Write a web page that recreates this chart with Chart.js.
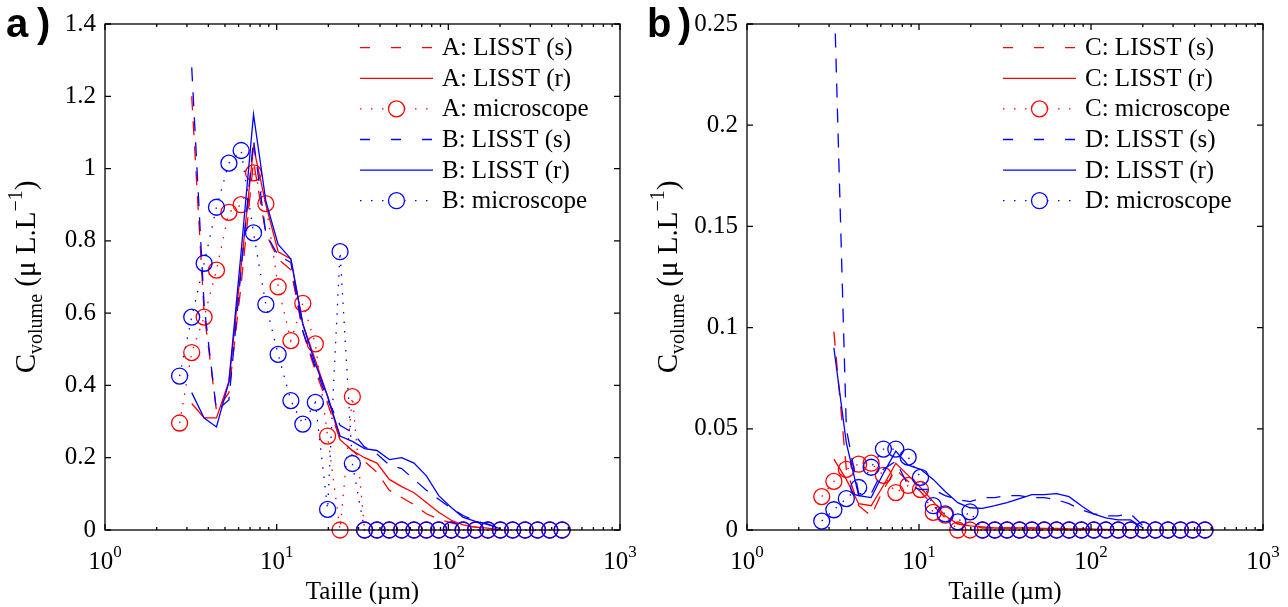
<!DOCTYPE html>
<html>
<head>
<meta charset="utf-8">
<script src="https://cdn.jsdelivr.net/npm/chart.js@4.4.1/dist/chart.umd.min.js"></script>
<style>
  body { margin: 0; background: #fff; width: 1288px; height: 607px; overflow: hidden; }
  .panel { position: absolute; top: 0; width: 644px; height: 607px; }
</style>
</head>
<body>
<div class="panel" style="left:0"><canvas id="chartA"></canvas></div>
<div class="panel" style="left:644px"><canvas id="chartB"></canvas></div>
<script>
// LISST size classes (um); the microscope counts use the same classes
var sizes = [2.72, 3.2, 3.78, 4.46, 5.27, 6.21, 7.33, 8.65, 10.2, 12.1, 14.2, 16.8, 19.8, 23.4, 27.6, 32.5,
             38.4, 45.3, 53.5, 63.1, 74.5, 87.9, 104, 122, 144, 170, 201, 237, 280, 331, 390, 460];
// LISST curves only go from the 2nd class to 201 um
var lisstSizes = sizes.slice(1, 27);

// panel a
var aLisstS = [1.2, 0.6, 0.33, 0.38, 0.68, 1.02, 0.82, 0.75, 0.72, 0.55, 0.44, 0.35, 0.25, 0.22, 0.19, 0.16,
               0.11, 0.09, 0.07, 0.045, 0.03, 0.02, 0.012, 0.008, 0.004, 0.0];
var aLisstR = [0.35, 0.31, 0.31, 0.41, 0.73, 1.06, 0.9, 0.77, 0.75, 0.57, 0.47, 0.37, 0.25, 0.22, 0.2, 0.185,
               0.14, 0.12, 0.103, 0.076, 0.049, 0.027, 0.014, 0.008, 0.005, 0.0];
var aMicro = [0.296, 0.491, 0.589, 0.719, 0.879, 0.90, 0.988, 0.903, 0.673, 0.524, 0.627, 0.515, 0.26, 0, 0.369,
              0, 0, 0, 0, 0, 0, 0, 0, 0, 0, 0, 0, 0, 0, 0, 0, 0];
var bLisstS = [1.28, 0.62, 0.33, 0.36, 0.72, 1.08, 0.82, 0.76, 0.74, 0.55, 0.45, 0.36, 0.29, 0.27, 0.23, 0.21,
               0.18, 0.17, 0.14, 0.11, 0.085, 0.06, 0.04, 0.025, 0.015, 0.005];
var bLisstR = [0.38, 0.31, 0.285, 0.41, 0.77, 1.15, 0.91, 0.79, 0.75, 0.57, 0.46, 0.37, 0.26, 0.245, 0.225, 0.22,
               0.195, 0.2, 0.185, 0.15, 0.095, 0.062, 0.035, 0.024, 0.016, 0.003];
var bMicro = [0.426, 0.589, 0.738, 0.893, 1.015, 1.05, 0.822, 0.624, 0.486, 0.358, 0.293, 0.353, 0.057, 0.77, 0.184,
              0, 0, 0, 0, 0, 0, 0, 0, 0, 0, 0, 0, 0, 0, 0, 0, 0];

// panel b
var cLisstS = [0.098, 0.03, 0.012, 0.007, 0.02, 0.03, 0.024, 0.019, 0.012, 0.006, 0.003, 0.002, 0.001, 0.001, 0.001, 0.001,
               0.001, 0.0005, 0.0005, 0.0005, 0.0005, 0.0003, 0.0002, 0.0001, 0, 0];
var cLisstR = [0.035, 0.025, 0.013, 0.012, 0.022, 0.033, 0.027, 0.021, 0.014, 0.007, 0.003, 0.002, 0.0015, 0.001, 0.001, 0.001,
               0.001, 0.0008, 0.0008, 0.0006, 0.0005, 0.0004, 0.0003, 0.0002, 0.0001, 0];
var cMicro = [0.0165, 0.024, 0.030, 0.0325, 0.033, 0.027, 0.0185, 0.022, 0.020, 0.0087, 0.0073, 0, 0,
              0, 0, 0, 0, 0, 0, 0, 0, 0, 0, 0, 0, 0, 0, 0, 0, 0, 0, 0];
var dLisstS = [0.27, 0.05, 0.018, 0.018, 0.03, 0.034, 0.022, 0.02, 0.02, 0.017, 0.015, 0.014, 0.016, 0.016, 0.017, 0.017,
               0.016, 0.016, 0.015, 0.013, 0.01, 0.008, 0.007, 0.007, 0.008, 0.002];
var dLisstR = [0.09, 0.043, 0.017, 0.016, 0.028, 0.039, 0.032, 0.030, 0.025, 0.019, 0.0135, 0.011, 0.0107, 0.012, 0.0135, 0.0155,
               0.0175, 0.0175, 0.018, 0.0165, 0.012, 0.0078, 0.006, 0.005, 0.005, 0.001];
var dMicro = [0.0044, 0.010, 0.0155, 0.021, 0.031, 0.040, 0.040, 0.036, 0.026, 0.012, 0.008, 0.004, 0.009,
              0, 0, 0, 0, 0, 0, 0, 0, 0, 0, 0, 0, 0, 0, 0, 0, 0, 0, 0];

var xTicks = [1, 10, 100, 1000];
var xMinor = [2, 3, 4, 5, 6, 7, 8, 9];
var yTicksA = [0, 0.2, 0.4, 0.6, 0.8, 1, 1.2, 1.4];
var yTicksB = [0, 0.05, 0.1, 0.15, 0.2, 0.25];
var legendA = ['A: LISST (s)', 'A: LISST (r)', 'A: microscope', 'B: LISST (s)', 'B: LISST (r)', 'B: microscope'];
var legendB = ['C: LISST (s)', 'C: LISST (r)', 'C: microscope', 'D: LISST (s)', 'D: LISST (r)', 'D: microscope'];

var RED = '#ff0000', BLUE = '#0000ff';
var SERIF = '"Liberation Serif", "Times New Roman", serif';
var DASH = [14, 11], DOT = [1.5, 8];

function pts(xs, ys) {
  var out = [];
  for (var i = 0; i < ys.length; i++) out.push({ x: xs[i], y: ys[i] });
  return out;
}

function lisstSet(vals, color, dashed) {
  return {
    data: pts(lisstSizes, vals), borderColor: color, borderWidth: 1.3,
    borderDash: dashed ? DASH : [], pointRadius: 0, fill: false, tension: 0
  };
}

function microSet(vals, color) {
  return {
    data: pts(sizes, vals), borderColor: color, borderWidth: 1.3, borderDash: DOT,
    pointRadius: 8, pointStyle: 'circle', pointBorderColor: color, pointBorderWidth: 1.3,
    pointBackgroundColor: 'rgba(0,0,0,0)', fill: false, tension: 0, clip: false
  };
}

// box, inward ticks, superscript labels, titles and legend (MATLAB look)
var boxPlugin = {
  id: 'box',
  afterDraw: function (chart, args, opt) {
    var ctx = chart.ctx, a = chart.chartArea, xs = chart.scales.x, ys = chart.scales.y;
    ctx.save();
    ctx.strokeStyle = '#000';
    ctx.lineWidth = 1.3;
    ctx.setLineDash([]);
    ctx.strokeRect(a.left, a.top, a.right - a.left, a.bottom - a.top);

    ctx.beginPath();
    xTicks.forEach(function (t) {
      xMinor.concat([1]).forEach(function (m) {
        var v = t * m;
        if (v > 1000) return;
        var px = xs.getPixelForValue(v), len = m == 1 ? 6 : 3;
        ctx.moveTo(px, a.bottom); ctx.lineTo(px, a.bottom - len);
        ctx.moveTo(px, a.top); ctx.lineTo(px, a.top + len);
      });
    });
    opt.yTicks.forEach(function (v) {
      var py = ys.getPixelForValue(v);
      ctx.moveTo(a.left, py); ctx.lineTo(a.left + 6, py);
      ctx.moveTo(a.right, py); ctx.lineTo(a.right - 6, py);
    });
    ctx.stroke();

    ctx.fillStyle = '#000';
    ctx.textBaseline = 'alphabetic';
    ctx.textAlign = 'left';
    xTicks.forEach(function (t) {
      var e = String(Math.round(Math.log10(t)));
      ctx.font = '25px ' + SERIF;
      var w1 = ctx.measureText('10').width;
      ctx.font = '17px ' + SERIF;
      var w2 = ctx.measureText(e).width;
      var x0 = xs.getPixelForValue(t) - (w1 + w2) / 2;
      ctx.font = '25px ' + SERIF;
      ctx.fillText('10', x0, 569);
      ctx.font = '17px ' + SERIF;
      ctx.fillText(e, x0 + w1, 557);
    });

    ctx.font = '25px ' + SERIF;
    ctx.textAlign = 'center';
    ctx.fillText('Taille (µm)', (a.left + a.right) / 2, 599);

    // rotated y title with sub/superscript
    var parts = [['C', 29, 0], ['volume', 20, 7], [' (μ L.L', 29, 0], ['−1', 20, -13], [')', 29, 0]];
    ctx.save();
    ctx.translate(opt.titleX, (a.top + a.bottom) / 2);
    ctx.rotate(-Math.PI / 2);
    ctx.textAlign = 'left';
    var w = 0;
    parts.forEach(function (p) { ctx.font = p[1] + 'px ' + SERIF; w += ctx.measureText(p[0]).width; });
    var px = -w / 2;
    parts.forEach(function (p) {
      ctx.font = p[1] + 'px ' + SERIF;
      ctx.fillText(p[0], px, p[2]);
      px += ctx.measureText(p[0]).width;
    });
    ctx.restore();

    // panel letter
    ctx.textAlign = 'left';
    ctx.font = 'bold 40px "Liberation Sans", Arial, sans-serif';
    ctx.fillText(opt.letter, opt.letterX, 37);
    ctx.fillText(')', opt.letterX + 31, 37);

    // legend
    var lx0 = a.right - 260, lx1 = a.right - 187, tx = a.right - 178;
    var colors = [RED, RED, RED, BLUE, BLUE, BLUE];
    opt.legend.forEach(function (name, i) {
      var y = 47.7 + i * 30.6, kind = i % 3;
      ctx.strokeStyle = colors[i];
      ctx.lineWidth = 1.3;
      ctx.setLineDash(kind == 0 ? [10, 21] : kind == 2 ? [1.5, 9.5] : []);
      ctx.beginPath(); ctx.moveTo(lx0, y); ctx.lineTo(lx1, y); ctx.stroke();
      if (kind == 2) {
        ctx.setLineDash([]);
        ctx.fillStyle = '#fff';
        ctx.beginPath(); ctx.arc((lx0 + lx1) / 2, y, 8, 0, Math.PI * 2); ctx.fill(); ctx.stroke();
      }
      ctx.fillStyle = '#000';
      ctx.font = '25px ' + SERIF;
      ctx.textBaseline = 'middle';
      ctx.fillText(name, tx, y + 1);
    });
    ctx.restore();
  }
};

function makeChart(id, sets, yTicks, yWidth, rightPad, opt) {
  var ctx = document.getElementById(id).getContext('2d');
  return new Chart(ctx, {
    type: 'line',
    data: { datasets: sets },
    plugins: [boxPlugin],
    options: {
      responsive: true, maintainAspectRatio: false, animation: false, devicePixelRatio: 1,
      layout: { padding: { left: 0, right: rightPad, top: 14, bottom: 0 } },
      plugins: { legend: { display: false }, tooltip: { enabled: false }, box: opt },
      scales: {
        x: {
          type: 'logarithmic', min: 1, max: 1000,
          grid: { display: false, drawTicks: false }, border: { display: false },
          ticks: { display: false },
          afterFit: function (s) { s.height = 77; }
        },
        y: {
          type: 'linear', min: 0, max: yTicks[yTicks.length - 1],
          grid: { display: false, drawTicks: false }, border: { display: false },
          afterBuildTicks: function (s) { s.ticks = yTicks.map(function (v) { return { value: v }; }); },
          ticks: {
            padding: 9, color: '#000', font: { family: SERIF, size: 25 },
            callback: function (v) { return String(+v.toFixed(2)); }
          },
          afterFit: function (s) { s.width = yWidth; }
        }
      }
    }
  });
}

// reversed so that the B/D series end up drawn on top, as in the original
makeChart('chartA', [
  microSet(bMicro, BLUE), lisstSet(bLisstR, BLUE, false), lisstSet(bLisstS, BLUE, true),
  microSet(aMicro, RED), lisstSet(aLisstR, RED, false), lisstSet(aLisstS, RED, true)
], yTicksA, 105, 24, { yTicks: yTicksA, legend: legendA, letter: 'a', letterX: 6, titleX: 35 });

makeChart('chartB', [
  microSet(dMicro, BLUE), lisstSet(dLisstR, BLUE, false), lisstSet(dLisstS, BLUE, true),
  microSet(cMicro, RED), lisstSet(cLisstR, RED, false), lisstSet(cLisstS, RED, true)
], yTicksB, 103, 25, { yTicks: yTicksB, legend: legendB, letter: 'b', letterX: 3, titleX: 33 });
</script>
</body>
</html>
